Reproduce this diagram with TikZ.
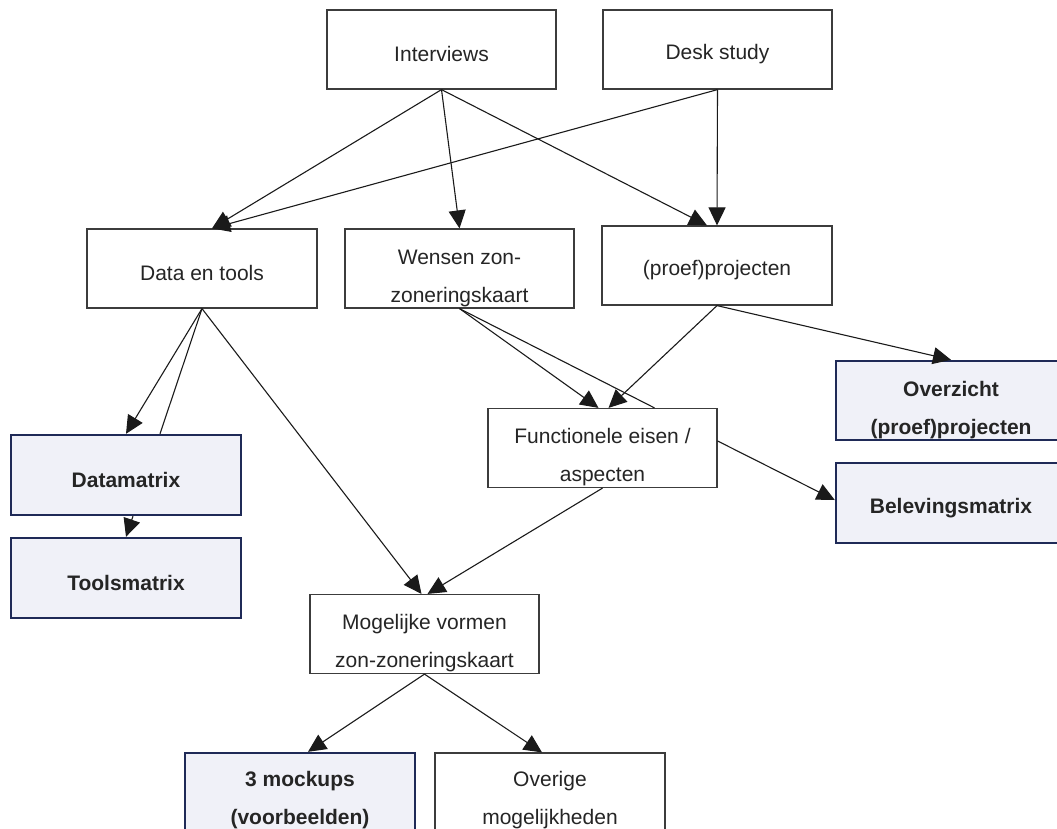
\documentclass[tikz,border=0pt]{standalone}
\usepackage{fontspec}
\setmainfont{Liberation Sans}
\usetikzlibrary{arrows.meta,calc}
\definecolor{navy}{HTML}{1F2A57}
\definecolor{lav}{HTML}{F0F1F8}
\definecolor{ink}{HTML}{1A1A1A}
\newcommand{\oneup}{\rule{0pt}{25pt}}
\newcommand{\twoup}{\rule{0pt}{34pt}}
\tikzset{
  box/.style={draw=ink!85, line width=1.2pt, fill=white, minimum width=229pt, minimum height=79pt,
    inner sep=0pt, align=center, text=ink!95, font=\fontsize{21}{38}\selectfont},
  hbox/.style={box, draw=navy, line width=2.4pt, fill=lav, font=\fontsize{21}{38}\selectfont\bfseries},
  conn/.style={draw=ink, line width=1.1pt},
  arr/.style={conn, -{Triangle[length=18pt,width=17pt]}}
}
\begin{document}
\begin{tikzpicture}[x=1pt,y=-1pt]
\useasboundingbox (0,0) rectangle (1057,828);
\clip (0,0) rectangle (1057,828);
\node[box] (int) at (441.5,49.5) {\oneup Interviews};
\node[box] (desk) at (717.5,49.5) {\oneup Desk study};
\node[box, minimum width=230pt] (data) at (202,268.5) {\oneup Data en tools};
\node[box] (wensen) at (459.5,268.5) {\twoup Wensen zon-\\zoneringskaart};
\node[box, minimum width=230pt] (proef) at (717,265.5) {\oneup (proef)projecten};
\node[hbox, minimum width=230pt, minimum height=80pt] (datam) at (126,475) {\oneup Datamatrix};
\node[hbox, minimum width=230pt, minimum height=80pt] (toolsm) at (126,578) {\oneup Toolsmatrix};
\node[box] (func) at (602.5,448) {\twoup Functionele eisen /\\aspecten};
\node[hbox, minimum width=230pt] (overz) at (951,400.5) {\twoup Overzicht\\(proef)projecten};
\node[hbox, minimum width=230pt, minimum height=80pt] (belev) at (951,503) {\oneup Belevingsmatrix};
\node[box] (mog) at (424.5,634) {\twoup Mogelijke vormen\\zon-zoneringskaart};
\node[hbox, minimum width=230pt, minimum height=80pt] (mock) at (300,793) {\rule{0pt}{30pt}3 mockups\\(voorbeelden)};
\node[box, minimum width=230pt, minimum height=80pt] (over) at (550,793) {\rule{0pt}{30pt}Overige\\mogelijkheden};

\draw[arr] (int.south) -- ([xshift=10pt]data.north);
\draw[arr] (desk.south) -- ([xshift=10pt]data.north);
\draw[arr] (int.south) -- (wensen.north);
\draw[arr] (int.south) -- ([xshift=-10pt]proef.north);
\draw[arr] (desk.south) -- (proef.north);

\draw[arr] (data.south) -- (datam.north);
\draw[conn] (data.south) -- ([xshift=34pt]datam.north);
\draw[arr] (data.south) -- ([xshift=-3pt]mog.north);
\draw[arr] ([xshift=7pt]datam.south) -- (toolsm.north);

\draw[arr] (wensen.south) -- ([xshift=-4pt]func.north);
\draw[conn] (wensen.south) -- ([xshift=52pt]func.north);
\draw[arr] (proef.south) -- ([xshift=6pt]func.north);
\draw[arr] (proef.south) -- (overz.north);

\draw[arr] (func.south) -- ([xshift=3pt]mog.north);
\draw[arr] ([yshift=7pt]func.east) -- ([yshift=3pt]belev.west);

\draw[arr] (mog.south) -- ([xshift=8pt]mock.north);
\draw[arr] (mog.south) -- ([xshift=-8pt]over.north);
\end{tikzpicture}
\end{document}
